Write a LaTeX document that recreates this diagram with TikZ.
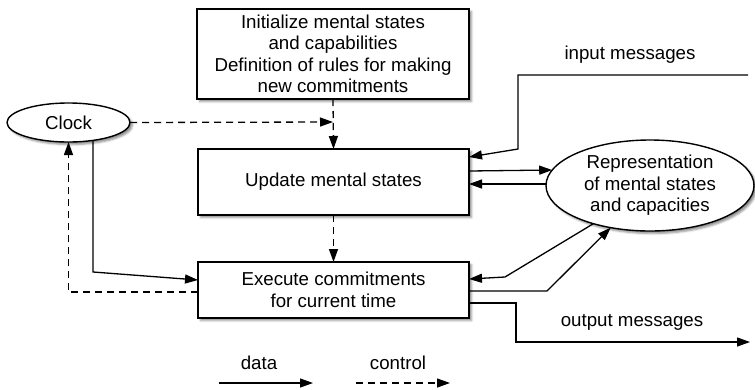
\documentclass[tikz,border=0pt]{standalone}
\usepackage{fontspec}
\setmainfont{Liberation Sans}
\usetikzlibrary{arrows.meta,shapes.geometric,shadows.blur}

\begin{document}
\begin{tikzpicture}[x=1pt,y=-1pt,
  every node/.style={font=\fontsize{18.7}{21.5}\selectfont, inner sep=0pt, outer sep=0pt},
  shade box/.style={draw, line width=1.4pt, fill=white,
    blur shadow={shadow xshift=2.5pt, shadow yshift=-2.5pt, shadow blur radius=2pt, shadow opacity=45}},
  procbox/.style={shade box, rectangle, align=center},
  storeell/.style={shade box, ellipse, align=center},
  lbl/.style={align=center},
  data/.style={line width=1.3pt, -{Triangle[length=13pt,width=9pt]}},
  ctrl/.style={line width=1.3pt, dash pattern=on 7pt off 5pt, -{Triangle[length=13pt,width=9pt]}}]

\useasboundingbox (0,0) rectangle (755,389);

% processing steps
\node[procbox, minimum width=272pt, minimum height=90pt] (init) at (333,54)
  {Initialize mental states\\and capabilities\\Definition of rules for making\\new commitments};
\node[procbox, minimum width=271pt, minimum height=66pt] (upd) at (333.5,182) {Update mental states};
\node[procbox, minimum width=271pt, minimum height=56pt] (exe) at (333.5,290)
  {Execute commitments\\for current time};

% clock and knowledge store
\node[storeell, minimum width=123pt, minimum height=39pt] (clk) at (68.5,122.5) {Clock};
\node[storeell, minimum width=208pt, minimum height=91pt] (rep) at (650,185.5)
  {Representation\\of mental states\\and capacities};

% free ends and bends
\coordinate (join) at (333,122);
\coordinate (clkdown) at (93,272);
\coordinate (inR) at (748,75);
\coordinate (inA) at (518,75);
\coordinate (inB) at (518,149);
\coordinate (rb1) at (505,277);
\coordinate (rb2) at (547,291);
\coordinate (outA) at (516,303);
\coordinate (outB) at (516,342);
\coordinate (outR) at (750,342);

% control flow
\draw[ctrl] (clk.east) -- (join);
\draw[ctrl] (init.south) -- (upd.north);
\draw[ctrl] (upd.south) -- (exe.north);
\draw[ctrl] ([yshift=-2pt]exe.west) -| (clk.south);

% data flow
\draw[data] (clk.-36) -- (clk.-36 |- clkdown) -- ([yshift=10pt]exe.west);
\draw[data] (inR) -- (inA) -- (inB) -- ([yshift=-8pt]upd.north east);
\draw[data] ([yshift=11pt]upd.east) -- (rep.171.6);
\draw[data] ([yshift=1.5pt]rep.west) -- ([yshift=-2pt]upd.east);
\draw[data] (rep.214) -- (rb1) -- ([yshift=11pt]exe.east);
\draw[data] ([yshift=-1pt]exe.east) -- (rb2) -- (rep.227);
\draw[data] ([yshift=-13pt]exe.east) -- (outA) -- (outB) -- (outR);

% message labels
\node[lbl] (inlbl) at (630,55) {input messages};
\node[lbl] (outlbl) at (632,322) {output messages};

% legend
\node[lbl] (datalbl) at (259,363) {data};
\node[lbl] (ctrllbl) at (398,363) {control};
\coordinate (dL1) at (219,383);
\coordinate (dL2) at (313,383);
\coordinate (cL1) at (356,383);
\coordinate (cL2) at (450,383);
\draw[data] (dL1) -- (dL2);
\draw[ctrl] (cL1) -- (cL2);
\end{tikzpicture}
\end{document}
